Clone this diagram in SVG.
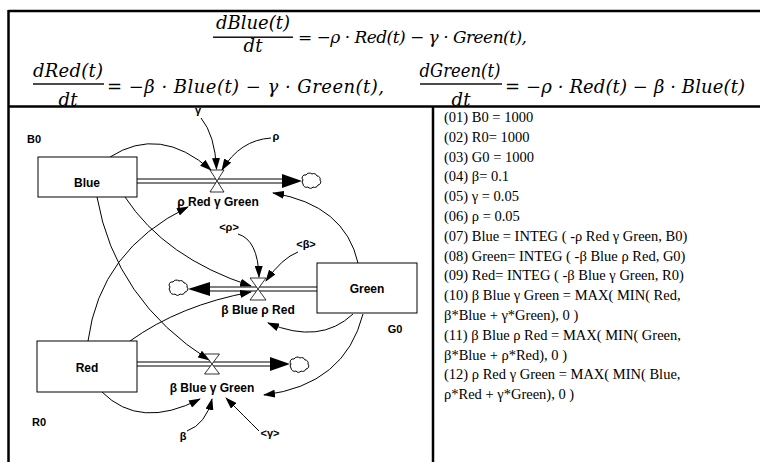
<svg xmlns="http://www.w3.org/2000/svg" width="760" height="462" viewBox="0 0 760 462">
<style>
.frame{stroke:#000;stroke-width:2.5;fill:none}
.eq{font-family:"DejaVu Serif","Liberation Serif",serif;font-style:italic;font-size:18px;fill:#000}
.eqc{text-anchor:middle}
.stock{fill:#fff;stroke:#000;stroke-width:1}
.lbl{font-family:"Liberation Sans",Arial,sans-serif;font-weight:bold;font-size:12px;fill:#000;text-anchor:middle}
.sm{font-family:"Liberation Sans",Arial,sans-serif;font-weight:bold;font-size:11px;fill:#000;text-anchor:middle}
.pipe{stroke:#000;stroke-width:1;fill:none}
.valve{fill:#fff;stroke:#000;stroke-width:0.8}
.link{stroke:#000;stroke-width:1;fill:none;marker-end:url(#ah)}
.cloud{fill:#fff;stroke:#000;stroke-width:1}
.txt{font-family:"Liberation Serif","Times New Roman",serif;font-size:14.5px;fill:#000}
</style>
<defs>
<marker id="ah" viewBox="0 0 12 8" markerWidth="12" markerHeight="8" refX="11" refY="4" orient="auto" markerUnits="userSpaceOnUse"><path d="M0,0 L12,4 L0,8 z" fill="#000"/></marker>
<path id="cloudShape" d="M-9,-1 a3,3 0 0 1 3,-5 a4,4 0 0 1 6,-1 a3.5,3.5 0 0 1 5,2 a3,3 0 0 1 3,4 a3,3 0 0 1 -2,5 a3.5,3.5 0 0 1 -5,2 a3,3 0 0 1 -5,0 a3.5,3.5 0 0 1 -5,-3 a3,3 0 0 1 0,-4 z"/>
</defs>
<rect width="760" height="462" fill="#fff"/>

<g id="equations">
<text class="eq eqc" x="253" y="29" textLength="74" lengthAdjust="spacing">dBlue(t)</text>
<rect x="213" y="36.5" width="80" height="1.4"/>
<text class="eq eqc" x="253" y="52">dt</text>
<text class="eq" x="298" y="43" textLength="229" lengthAdjust="spacing" style="font-size:17px">= −ρ · Red(t) − γ · Green(t),</text>

<text class="eq eqc" x="68" y="77" textLength="70" lengthAdjust="spacing">dRed(t)</text>
<rect x="33" y="83.3" width="71" height="1.4"/>
<text class="eq eqc" x="68" y="105.5">dt</text>
<text class="eq" x="107" y="93" textLength="277" lengthAdjust="spacing">= −β · Blue(t) − γ · Green(t),</text>

<text class="eq eqc" x="460" y="77" textLength="81" lengthAdjust="spacingAndGlyphs">dGreen(t)</text>
<rect x="420" y="83.3" width="82" height="1.4"/>
<text class="eq eqc" x="461" y="105.5">dt</text>
<text class="eq" x="505" y="93" textLength="240" lengthAdjust="spacing">= −ρ · Red(t) − β · Blue(t)</text>
</g>

<g id="frame">
<line class="frame" x1="8.5" y1="11" x2="760" y2="11"/>
<line class="frame" x1="8.5" y1="10" x2="8.5" y2="462"/>
<line class="frame" x1="8.5" y1="106.5" x2="760" y2="106.5"/>
<line class="frame" x1="433" y1="106.5" x2="433" y2="462"/>
</g>

<g id="connectors">
<path class="link" d="M110,157 Q160,125 211,170"/>
<path class="link" d="M201,118 Q215,135 216.5,169"/>
<path class="link" d="M271,138 Q240,140 222,170"/>
<path class="link" d="M358,263 Q345,205 273,193"/>
<path class="link" d="M88,341 Q100,250 188,207"/>
<path class="link" d="M130,341 Q180,305 251,292"/>
<path class="link" d="M97,197 Q115,300 209,360"/>
<path class="link" d="M125,197 Q165,258 251,286"/>
<path class="link" d="M238,234 Q258,240 259,277"/>
<path class="link" d="M298,252 Q282,258 266,281"/>
<path class="link" d="M353,314 Q320,345 268,323"/>
<path class="link" d="M363,314 Q345,385 264,395"/>
<path class="link" d="M102,392 Q140,430 200,399"/>
<path class="link" d="M187,431 Q206,424 212,399"/>
<path class="link" d="M259,431 Q245,417 226,398"/>
</g>

<g id="stock-blue">
<rect class="stock" x="38" y="157" width="99" height="40"/>
<text class="lbl" x="87" y="187">Blue</text>
<text class="sm" x="34" y="143">B0</text>
</g>
<g id="stock-green">
<rect class="stock" x="317" y="263" width="100" height="50"/>
<text class="lbl" x="367" y="293">Green</text>
<text class="sm" x="395" y="333">G0</text>
</g>
<g id="stock-red">
<rect class="stock" x="37" y="341" width="100" height="51"/>
<text class="lbl" x="87" y="372">Red</text>
<text class="sm" x="39" y="426">R0</text>
</g>

<g id="flow-rho-red-gamma-green">
<line class="pipe" x1="137" y1="179" x2="284" y2="179"/>
<line class="pipe" x1="137" y1="183" x2="284" y2="183"/>
<polygon points="302,181 282,174 282,188" fill="#000"/>
<path class="valve" d="M210,170 L224,170 L210,192 L224,192 Z"/>
<text class="lbl" x="218" y="206">ρ Red γ Green</text>
</g>
<g id="cloud-1"><use href="#cloudShape" class="cloud" transform="translate(312,181)"/></g>

<g id="flow-beta-blue-rho-red">
<line class="pipe" x1="208" y1="287" x2="317" y2="287"/>
<line class="pipe" x1="208" y1="291" x2="317" y2="291"/>
<polygon points="188,289 210,282 210,296" fill="#000"/>
<path class="valve" d="M250,278 L266,278 L250,300 L266,300 Z"/>
<text class="lbl" x="258" y="314">β Blue ρ Red</text>
</g>
<g id="cloud-2"><use href="#cloudShape" class="cloud" transform="translate(179,288)"/></g>

<g id="flow-beta-blue-gamma-green">
<line class="pipe" x1="137" y1="362" x2="272" y2="362"/>
<line class="pipe" x1="137" y1="366" x2="272" y2="366"/>
<polygon points="290,364 270,357 270,371" fill="#000"/>
<path class="valve" d="M204.5,354 L219.5,354 L204.5,374 L219.5,374 Z"/>
<text class="lbl" x="212" y="392">β Blue γ Green</text>
</g>
<g id="cloud-3"><use href="#cloudShape" class="cloud" transform="translate(300,365)"/></g>

<g id="const-gamma"><text class="sm" x="198" y="114">γ</text></g>
<g id="const-rho"><text class="sm" x="276" y="140">ρ</text></g>
<g id="shadow-rho"><text class="sm" x="229" y="231">&lt;ρ&gt;</text></g>
<g id="shadow-beta"><text class="sm" x="306" y="248">&lt;β&gt;</text></g>
<g id="const-beta"><text class="sm" x="183" y="440">β</text></g>
<g id="shadow-gamma"><text class="sm" x="270" y="437">&lt;γ&gt;</text></g>

<g id="equation-list" class="txt">
<text x="444" y="122">(01) B0 = 1000</text>
<text x="444" y="141.8">(02) R0= 1000</text>
<text x="444" y="161.6">(03) G0 = 1000</text>
<text x="444" y="181.4">(04) β= 0.1</text>
<text x="444" y="201.2">(05) γ = 0.05</text>
<text x="444" y="221">(06) ρ = 0.05</text>
<text x="444" y="240.8">(07) Blue = INTEG ( -ρ Red γ Green, B0)</text>
<text x="444" y="260.6">(08) Green= INTEG ( -β Blue ρ Red, G0)</text>
<text x="444" y="280.4">(09) Red= INTEG ( -β Blue γ Green, R0)</text>
<text x="444" y="300.2">(10) β Blue γ Green = MAX( MIN( Red,</text>
<text x="444" y="320">β*Blue + γ*Green), 0 )</text>
<text x="444" y="339.8">(11) β Blue ρ Red = MAX( MIN( Green,</text>
<text x="444" y="359.6">β*Blue + ρ*Red), 0 )</text>
<text x="444" y="379.4">(12) ρ Red γ Green = MAX( MIN( Blue,</text>
<text x="444" y="399.2">ρ*Red + γ*Green), 0 )</text>
</g>
</svg>
